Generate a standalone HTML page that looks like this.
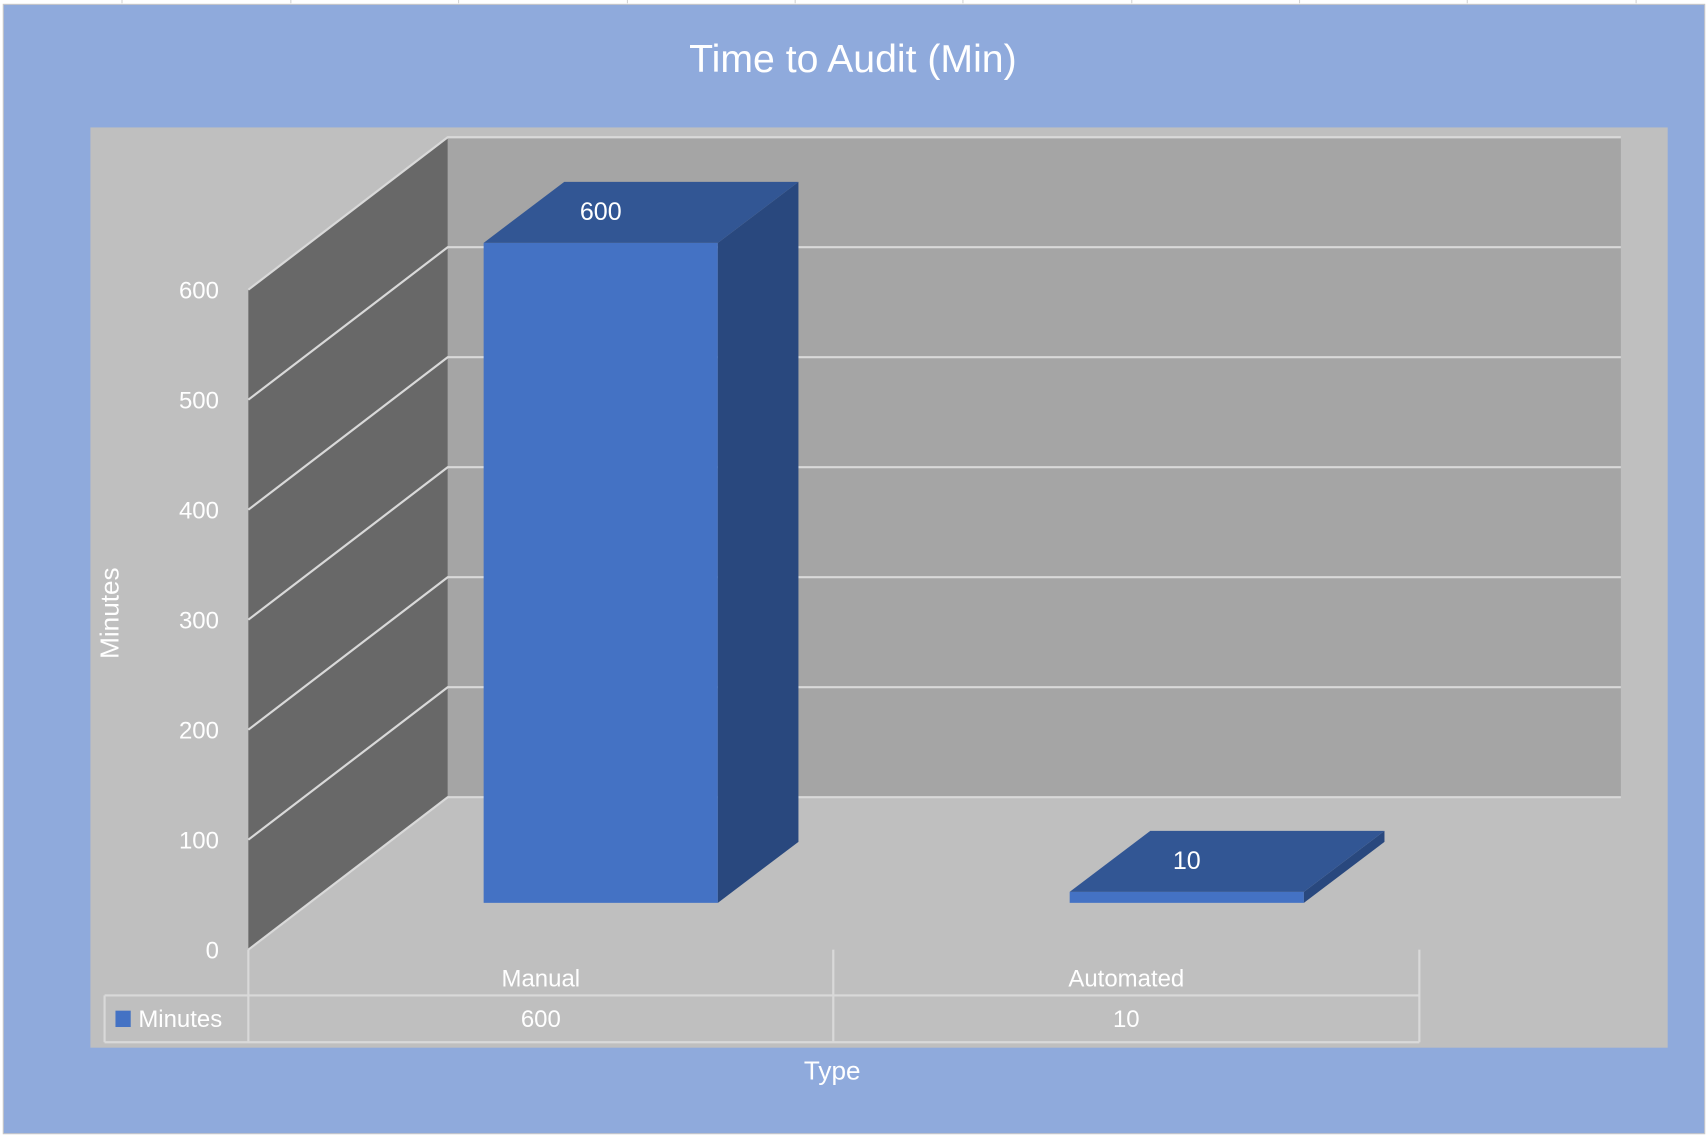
<!DOCTYPE html>
<html><head><meta charset="utf-8"><style>
html,body{margin:0;padding:0;background:#fff;width:1708px;height:1137px;overflow:hidden}
svg{display:block}
text{font-family:"Liberation Sans",sans-serif;fill:#fff}
</style></head><body>
<svg id="chart" width="1708" height="1137" viewBox="0 0 1568 1044" preserveAspectRatio="none" xmlns="http://www.w3.org/2000/svg">
<g stroke="#d4d4d4" stroke-width="1">
<line x1="112" y1="0" x2="112" y2="3"/><line x1="267" y1="0" x2="267" y2="3"/><line x1="421" y1="0" x2="421" y2="3"/><line x1="576" y1="0" x2="576" y2="3"/><line x1="730" y1="0" x2="730" y2="3"/><line x1="884" y1="0" x2="884" y2="3"/><line x1="1039" y1="0" x2="1039" y2="3"/><line x1="1193" y1="0" x2="1193" y2="3"/><line x1="1347" y1="0" x2="1347" y2="3"/><line x1="1502" y1="0" x2="1502" y2="3"/>
</g>
<rect x="3" y="4" width="1562" height="1037" fill="#8faadc" stroke="#c8c8c8" stroke-width="1"/>
<text x="783" y="66" font-size="36" text-anchor="middle">Time to Audit (Min)</text>
<rect x="83" y="117" width="1448" height="845" fill="#bfbfbf"/>
<g id="plot"></g>
<text transform="translate(109,563) rotate(-90)" font-size="24" text-anchor="middle">Minutes</text>
<text x="764" y="991" font-size="24" text-anchor="middle">Type</text>
</svg>
<script>
const categories = ["Manual", "Automated"];
const seriesName = "Minutes";
const values = [600, 10];
const yTicks = [0, 100, 200, 300, 400, 500, 600];

const NS = "http://www.w3.org/2000/svg";
const plot = document.getElementById('plot');
const DX = 183, DY = -140;
const BDX = 74, BDY = -56;
const sideX = 228, baseY = 872;
const unit = 101 / 100;
function yAxis(v){ return baseY - v * unit; }
function yFront(v){ return 829 - v * unit; }
function xCat(i){ return 444 + i * 538; }
const barW = 215;

function mk(tag, attrs, parent){
  const e = document.createElementNS(NS, tag);
  for (const k in attrs) e.setAttribute(k, attrs[k]);
  (parent || plot).appendChild(e);
  return e;
}
const yTopVal = yAxis(yTicks[yTicks.length-1]);
const bw = mk('rect', {x: sideX+DX, y: yTopVal+DY, width: 1488-(sideX+DX), height: baseY-yTopVal, fill:'#a5a5a5'});


const sw = mk('polygon', {points: `${sideX},${yTopVal} ${sideX+DX},${yTopVal+DY} ${sideX+DX},${baseY+DY} ${sideX},${baseY}`, fill:'#686868'});


yTicks.forEach(t => {
  const y = yAxis(t);
  const g = mk('polyline', {points: `${sideX},${y} ${sideX+DX},${y+DY} 1488,${y+DY}`, fill:'none', stroke:'#d9d9d9', 'stroke-width':2});
  
  
  const tx = mk('text', {x: 201, y: y + 8, 'font-size': 22, 'text-anchor':'end'});
  tx.textContent = t;
  
  
});
values.forEach((v, i) => {
  const x0 = xCat(i), x1 = x0 + barW, yb = yFront(0), yt = yFront(v);
  const grp = mk('g', {});
  
  
  mk('rect', {x: x0, y: yt, width: barW, height: yb - yt, fill:'#4472c4'}, grp);
  mk('polygon', {points: `${x1},${yt} ${x1+BDX},${yt+BDY} ${x1+BDX},${yb+BDY} ${x1},${yb}`, fill:'#29487e'}, grp);
  mk('polygon', {points: `${x0},${yt} ${x0+BDX},${yt+BDY} ${x1+BDX},${yt+BDY} ${x1},${yt}`, fill:'#325694'}, grp);
  const lb = mk('text', {x: x0 + barW/2, y: yt + BDY/2 + 7, 'font-size': 23, 'text-anchor':'middle'});
  lb.textContent = v;
  
  
});
const tbl = mk('g', {stroke:'#d9d9d9', 'stroke-width':2, fill:'none'});


const colX = [228, 765, 1303];
colX.forEach(x => mk('line', {x1:x, y1:872, x2:x, y2:957}, tbl));
mk('line', {x1:96, y1:914, x2:1303, y2:914}, tbl);
mk('line', {x1:96, y1:957, x2:1303, y2:957}, tbl);
mk('line', {x1:96, y1:914, x2:96, y2:957}, tbl);
categories.forEach((c, i) => {
  const cx = (colX[i] + colX[i+1]) / 2;
  const ct = mk('text', {x: cx, y: 906, 'font-size': 22, 'text-anchor':'middle'});
  ct.textContent = c;
  
  
  const vt = mk('text', {x: cx, y: 943, 'font-size': 22, 'text-anchor':'middle'});
  vt.textContent = values[i];
  
  
});
const lk = mk('rect', {x:106, y:928, width:14, height:15, fill:'#4472c4'});


const lt = mk('text', {x:127, y:943, 'font-size': 22});
lt.textContent = seriesName;


</script>
</body></html>
